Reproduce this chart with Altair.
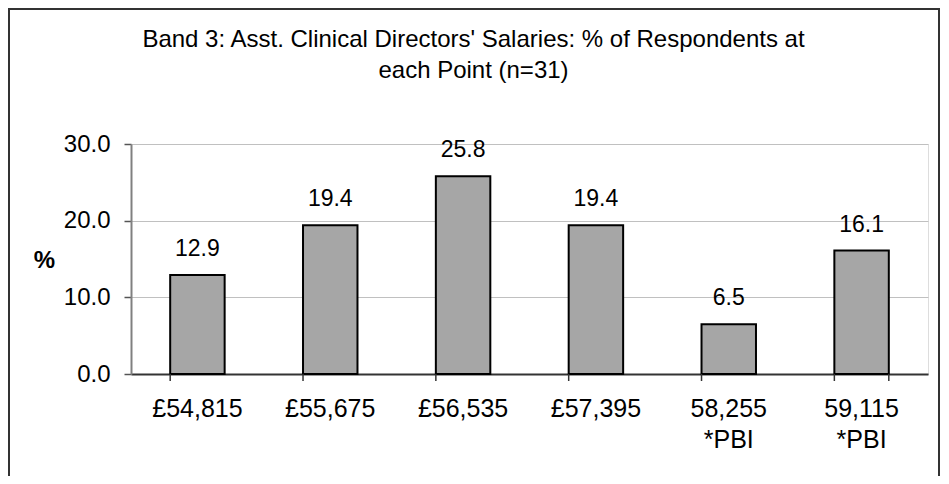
import altair as alt
import pandas as pd

categories = ["£54,815", "£55,675", "£56,535", "£57,395", "58,255\n*PBI", "59,115\n*PBI"]
percent = [12.9, 19.4, 25.8, 19.4, 6.5, 16.1]
y_ticks = [0, 10, 20, 30]
title_lines = ["Band 3: Asst. Clinical Directors' Salaries: % of Respondents at", "each Point (n=31)"]

df = pd.DataFrame({"cat": categories, "pct": percent})
# tick marks at band boundaries: start of every band, plus end of the last band
tick_df = pd.DataFrame({"cat": categories + [categories[-1]],
                        "edge": [0] * len(categories) + [1]})
FONT = "Liberation Sans"

xscale = alt.Scale(paddingInner=0.59, paddingOuter=0.295)
x = alt.X("cat:N", sort=categories, title=None, scale=xscale,
          axis=alt.Axis(labelAngle=0, labelFontSize=25, labelFont=FONT, labelColor="black",
                        labelExpr="split(datum.label, '\\n')", labelLineHeight=31,
                        ticks=False, tickSize=0,
                        domainColor="#333333", domainWidth=2, labelPadding=22, labelBaseline="top"))
y = alt.Y("pct:Q", title="%",
          scale=alt.Scale(domain=[0, 30], nice=False),
          axis=alt.Axis(values=y_ticks, format=".1f", labelFontSize=24, labelFont=FONT, labelColor="black",
                        tickSize=7, tickColor="#555555", tickWidth=1.5, domainColor="#808080", domainWidth=2,
                        gridColor="#c0c0c0", gridWidth=1, labelPadding=14,
                        titleAngle=0, titleFontSize=24, titleFont=FONT, titleFontWeight="bold",
                        titleX=-87, titleY=116, titleAlign="center", titleBaseline="middle", titleColor="black"))

bars = alt.Chart(df).mark_bar(color="#a6a6a6", stroke="black", strokeWidth=2).encode(x=x, y=y)
labels = alt.Chart(df).mark_text(baseline="alphabetic", dy=-19, fontSize=23, font=FONT, color="black").encode(
    x=alt.X("cat:N", sort=categories), y="pct:Q", text=alt.Text("pct:Q", format=".1f"))
xticks0 = alt.Chart(tick_df).transform_filter("datum.edge == 0").mark_rule(
    color="#333333", strokeWidth=1.5).encode(
    x=alt.X("cat:N", sort=categories, bandPosition=0), y=alt.value(230), y2=alt.value(237))
xticks1 = alt.Chart(tick_df).transform_filter("datum.edge == 1").mark_rule(
    color="#333333", strokeWidth=1.5).encode(
    x=alt.X("cat:N", sort=categories, bandPosition=1), y=alt.value(230), y2=alt.value(237))
border = alt.Chart(pd.DataFrame({"a": [0]})).mark_rect(
    fill="transparent", stroke="#333333", strokeWidth=2).encode(
    x=alt.value(-122), x2=alt.value(808), y=alt.value(-135), y2=alt.value(345))

chart = alt.layer(bars, labels, xticks0, xticks1, border).properties(
    width=797, height=230,
    padding={"left": 123, "top": 136, "right": 12, "bottom": 102},
    autosize=alt.AutoSizeParams(type="none"),
    title=alt.TitleParams(text=title_lines, fontSize=24, font=FONT, fontWeight="normal", color="black",
                          anchor="middle", dx=-56, lineHeight=31, offset=0, dy=75),
).configure_view(stroke="#808080", strokeWidth=2).configure(background="white")

chart.save("out.html", embed_options={"renderer": "svg", "actions": False})
